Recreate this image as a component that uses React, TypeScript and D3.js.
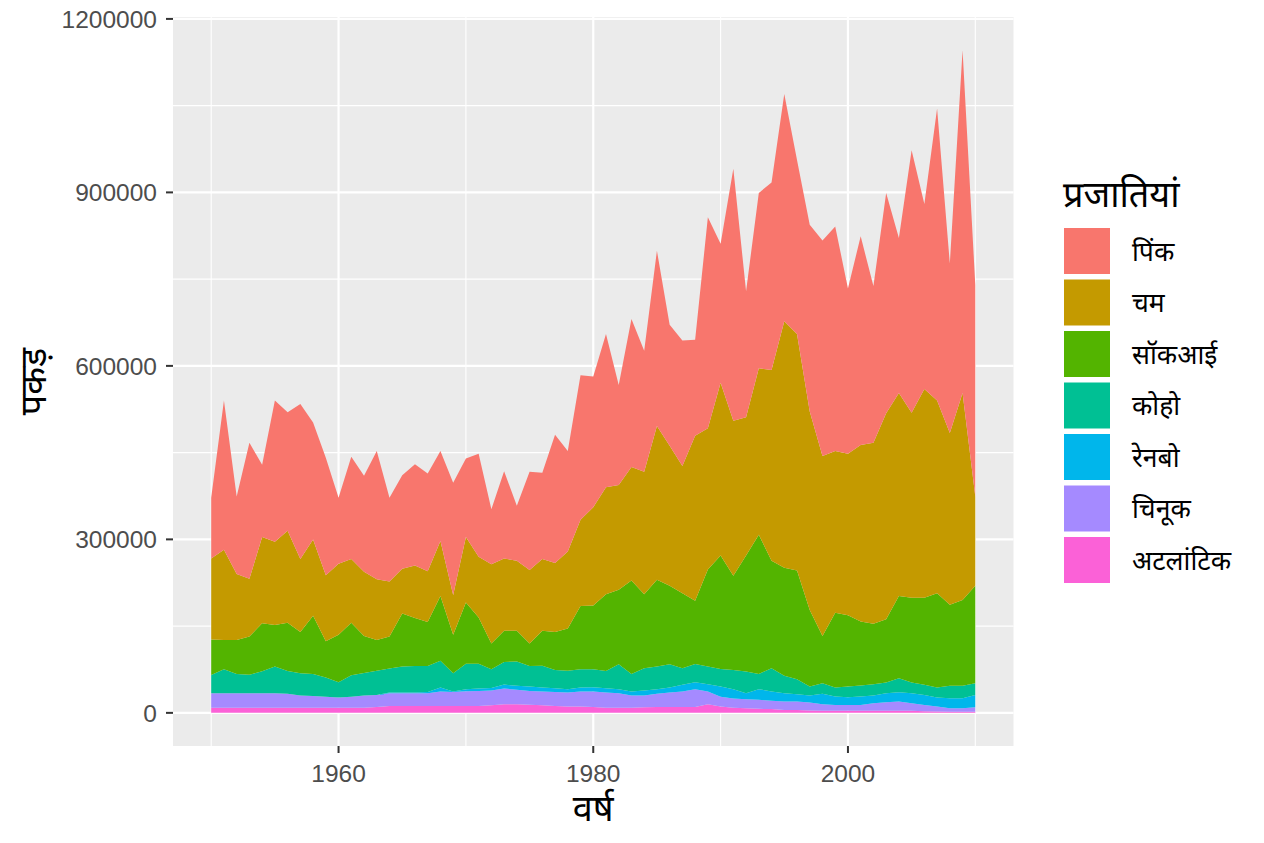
import React from 'react';
import * as d3 from 'd3';

// catch per year, 1950..2010 (in fish)
const years = d3.range(1950, 2011);

const pink = [105000, 258000, 134000, 235000, 125000, 244000, 205000, 268000, 202000, 203000, 114000, 177000, 166000, 222000, 145000, 162000, 175000, 169000, 156000, 194000, 136000, 178000, 95000, 151000, 95000, 170000, 149000, 222000, 174000, 250000, 226000, 265000, 173000, 256000, 209000, 303000, 209000, 217000, 166000, 365000, 240000, 436000, 218000, 303000, 324000, 393000, 301000, 323000, 373000, 388000, 286000, 361000, 271000, 381000, 268000, 454000, 320000, 505000, 293000, 593000, 366000];
const chum = [140000, 156000, 114000, 100000, 149000, 144000, 159000, 126000, 132000, 114000, 123000, 110000, 111000, 105000, 95000, 77000, 91000, 88000, 95000, 69000, 113000, 105000, 137000, 125000, 121000, 127000, 124000, 119000, 133000, 149000, 170000, 185000, 181000, 196000, 212000, 266000, 242000, 220000, 285000, 244000, 299000, 268000, 239000, 288000, 330000, 426000, 409000, 343000, 311000, 280000, 279000, 305000, 313000, 356000, 351000, 320000, 361000, 333000, 297000, 358000, 154000];
const sockeye = [61500, 50500, 59000, 66000, 83000, 72000, 83400, 71400, 100600, 63000, 82000, 91000, 64000, 53000, 55500, 92000, 83000, 76000, 112000, 66400, 106000, 80000, 44500, 54000, 53000, 39000, 60500, 66000, 73000, 109500, 110000, 132400, 129000, 161600, 127800, 150000, 136000, 129800, 109300, 168000, 196000, 163000, 200500, 240600, 185800, 187000, 187800, 132500, 81700, 129200, 123500, 110700, 104400, 109600, 142000, 146600, 150600, 163200, 140300, 148300, 168700];
const coho = [31500, 41500, 33000, 32000, 38000, 46000, 39600, 38600, 38400, 33000, 26500, 37000, 39000, 42000, 41500, 45000, 46000, 45000, 46000, 31600, 44000, 43000, 32500, 39000, 42300, 35500, 37500, 31400, 32000, 31500, 31100, 30000, 43000, 30400, 38600, 39000, 40200, 28800, 31700, 30400, 30500, 33000, 37500, 26400, 40200, 30000, 25900, 15500, 18400, 15600, 18500, 19100, 19600, 18400, 24300, 18400, 17400, 17300, 21300, 21300, 20300];
const rainbow = [0, 0, 0, 0, 0, 0, 0, 0, 0, 0, 0, 0, 0, 0, 1000, 1000, 1000, 2000, 7000, 1000, 3500, 4000, 4500, 7000, 6700, 7500, 7000, 6600, 6000, 7000, 7400, 7600, 7000, 7000, 8600, 8000, 8800, 11400, 12000, 12600, 17500, 16000, 10400, 18500, 16000, 14400, 12700, 12000, 17900, 14400, 13200, 14400, 13300, 15600, 16100, 17300, 17200, 15500, 17400, 17400, 21200];
const chinook = [25000, 25000, 25000, 25000, 25000, 25000, 24000, 21000, 20000, 19000, 17500, 19000, 21000, 21000, 22000, 22000, 22000, 22000, 25000, 24000, 25500, 26000, 25500, 27000, 25000, 24000, 24000, 24000, 24000, 26000, 27000, 26000, 25000, 21000, 20500, 23000, 25000, 27000, 31000, 22000, 17000, 16000, 15600, 15500, 14500, 14600, 14600, 14000, 11500, 10300, 10300, 10300, 13200, 14900, 16100, 13200, 10800, 8500, 6000, 6000, 7800];
const atlantic = [9000, 9000, 9000, 9000, 9000, 9000, 9000, 9000, 9000, 9000, 9000, 9000, 9000, 10000, 12000, 12000, 12000, 12000, 12000, 12000, 12000, 12000, 13000, 15000, 15000, 14000, 13000, 12000, 11000, 11000, 10000, 9000, 9000, 9000, 9500, 10000, 10000, 10000, 10000, 15000, 11000, 9000, 8000, 7000, 6500, 5000, 5000, 4000, 3500, 3500, 3500, 3500, 3500, 3500, 3500, 3500, 3000, 2500, 2000, 2000, 2000];

const species = ['पिंक', 'चम', 'सॉकआई', 'कोहो', 'रेनबो', 'चिनूक', 'अटलांटिक'];
const speciesColors = ['#F8766D', '#C49A00', '#53B400', '#00C094', '#00B6EB', '#A58AFF', '#FB61D7'];
const seriesValues = [pink, chum, sockeye, coho, rainbow, chinook, atlantic];

const xMajor = [1960, 1980, 2000];
const xMinor = [1950, 1970, 1990, 2010];
const yMajor = [0, 300000, 600000, 900000, 1200000];
const yMinor = [150000, 450000, 750000, 1050000];

const font = '"Liberation Sans", Arial, "Noto Sans Devanagari", "Noto Sans", sans-serif';

export default function App() {
  const width = 1264, height = 843;
  const panel = { left: 173, top: 17, right: 1013.5, bottom: 746 };

  const rows = years.map((yr, i) => {
    const r: any = { year: yr };
    species.forEach((s, k) => { r[s] = seriesValues[k][i]; });
    return r;
  });

  // ggplot puts the first level on top, so stack from the last one
  const stackKeys = species.slice().reverse();
  const layers = d3.stack<any>().keys(stackKeys)(rows);
  const maxTotal = d3.max(layers[layers.length - 1], d => d[1]) || 1;

  const xPad = (2010 - 1950) * 0.05;
  const yPad = maxTotal * 0.05;
  const x = d3.scaleLinear().domain([1950 - xPad, 2010 + xPad]).range([panel.left, panel.right]);
  const y = d3.scaleLinear().domain([-yPad, maxTotal + yPad]).range([panel.bottom, panel.top]);

  const area = d3.area<any>().x(d => x(d.data.year)).y0(d => y(d[0])).y1(d => y(d[1]));

  const legendX = 1064, legendY = 228, keySize = 46, keyStep = 51.5;

  return (
    <svg width={width} height={height} style={{ display: 'block', position: 'absolute', left: 0, top: 0, background: '#fff' }} fontFamily={font}>
      <rect x={panel.left} y={panel.top} width={panel.right - panel.left} height={panel.bottom - panel.top} fill="#EBEBEB" />
      {yMinor.map(v => <line key={'ym' + v} x1={panel.left} x2={panel.right} y1={y(v)} y2={y(v)} stroke="#fff" strokeWidth={1.1} />)}
      {xMinor.map(v => <line key={'xm' + v} x1={x(v)} x2={x(v)} y1={panel.top} y2={panel.bottom} stroke="#fff" strokeWidth={1.1} />)}
      {yMajor.map(v => <line key={'yM' + v} x1={panel.left} x2={panel.right} y1={y(v)} y2={y(v)} stroke="#fff" strokeWidth={2.2} />)}
      {xMajor.map(v => <line key={'xM' + v} x1={x(v)} x2={x(v)} y1={panel.top} y2={panel.bottom} stroke="#fff" strokeWidth={2.2} />)}

      {layers.map(layer => (
        <path key={layer.key} d={area(layer) || ''} fill={speciesColors[species.indexOf(layer.key)]} />
      ))}

      {yMajor.map(v => (
        <g key={'yt' + v}>
          <line x1={panel.left - 7} x2={panel.left} y1={y(v)} y2={y(v)} stroke="#333" strokeWidth={2} />
          <text x={panel.left - 16} y={y(v)} dy="0.36em" textAnchor="end" fontSize={24.5} fill="#4D4D4D">{v}</text>
        </g>
      ))}
      {xMajor.map(v => (
        <g key={'xt' + v}>
          <line x1={x(v)} x2={x(v)} y1={panel.bottom} y2={panel.bottom + 7} stroke="#333" strokeWidth={2} />
          <text x={x(v)} y={panel.bottom + 36} textAnchor="middle" fontSize={24.5} fill="#4D4D4D">{v}</text>
        </g>
      ))}

      <text x={(panel.left + panel.right) / 2} y={821} textAnchor="middle" fontSize={36} fill="#000">वर्ष</text>
      <text transform={`translate(46,${(panel.top + panel.bottom) / 2}) rotate(-90)`} textAnchor="middle" fontSize={36} fill="#000">पकड़</text>

      <text x={legendX - 1} y={207} fontSize={36} fill="#000">प्रजातियां</text>
      {species.map((s, i) => (
        <g key={s} transform={`translate(${legendX},${legendY + i * keyStep})`}>
          <rect width={keySize} height={keySize} fill={speciesColors[i]} />
          <text x={68} y={keySize / 2} dy="0.36em" fontSize={26.5} fill="#000">{s}</text>
        </g>
      ))}
    </svg>
  );
}
